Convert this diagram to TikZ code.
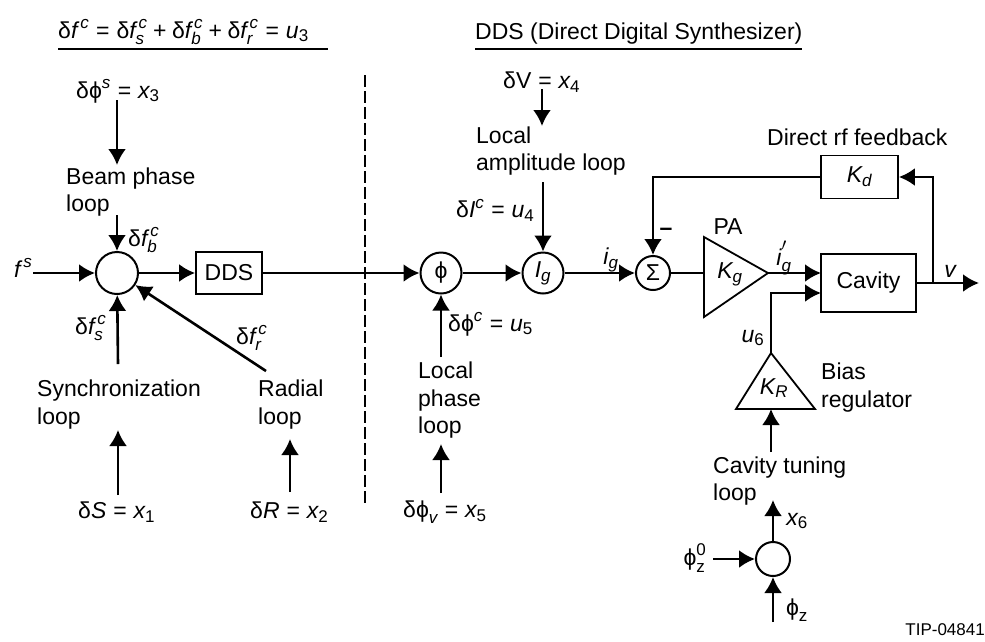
\documentclass[tikz,border=0pt]{standalone}
\usepackage{amsmath}
\usepackage{fontspec}
\setmainfont{Liberation Sans}
\usetikzlibrary{arrows.meta}
\DeclareMathSizes{23}{23}{17}{13}
\newcommand{\mi}[1]{\textit{#1}}
\newcommand{\up}[1]{\textup{#1}}
\newcommand{\dlt}{\textup{δ}}
\newcommand{\phs}{\textup{ϕ}}
\newcommand{\eqs}{\mathrel{\textup{=}}}
\newcommand{\pls}{\mathbin{\textup{+}}}
\tikzset{
  lbl/.style={inner sep=0pt,align=left,anchor=west},
  blockbox/.style={draw,line width=1.8pt,inner sep=0pt,fill=white},
  sumnode/.style={draw,circle,line width=2pt,inner sep=0pt,fill=white}
}
\begin{document}
\begin{tikzpicture}[x=1pt,y=-1pt,>={Latex[length=16pt,width=18pt]},font=\fontsize{23}{27.5}\selectfont]
\useasboundingbox (0,0) rectangle (985,641);
\node[lbl] (headl) at (58,32) {$\dlt\mi{f}^{\,\mi{c}}\eqs\dlt\mi{f}^{\,\mi{c}}_{\mi{s}}\pls\dlt\mi{f}^{\,\mi{c}}_{\mi{b}}\pls\dlt\mi{f}^{\,\mi{c}}_{\mi{r}}\eqs\mi{u}_{\up{3}}$};
\node[lbl] (headr) at (475,34) {DDS (Direct Digital Synthesizer)};
\draw[line width=1.6pt]
  (58,49) -- (328,49)
  (475,49) -- (802,49);
\draw[line width=1.7pt,dash pattern=on 12pt off 4pt]
  (365,75) -- (365,503);
\node[sumnode,minimum size=42pt] (sumf) at (117,273) {};
\node[blockbox,minimum width=66pt,minimum height=42pt] (dds) at (229,273) {DDS};
\node[sumnode,minimum size=41pt] (phi) at (441,273) {\phs};
\node[sumnode,minimum size=41pt] (ig) at (543,273) {$\mi{I}_{\mi{g}}$};
\node[sumnode,minimum size=34pt] (sigma) at (653,273) {Σ};
\node[blockbox,minimum width=77pt,minimum height=43pt] (kd) at (859.5,177) {$\mi{K}_{\mi{d}}$};
\node[blockbox,minimum width=95pt,minimum height=58pt] (cavity) at (868.5,283) {Cavity};
\node[sumnode,minimum size=34pt] (sumz) at (773,559) {};
\coordinate (pain) at (704,273);
\coordinate (paout) at (768,273);
\coordinate (krtop) at (771,353);
\coordinate (krin) at (771,409);
\path[draw,fill=white,line width=1.8pt,line join=miter]
  (704,237) -- (paout) -- (704,317) -- cycle
  (736,409) -- (krtop) -- (815,409) -- cycle;
\node[inner sep=0pt] (kg) at (730,274) {$\mi{K}_{\mi{g}}$};
\node[inner sep=0pt] (kr) at (774,388) {$\mi{K}_{\mi{R}}$};
\node[lbl] (x3) at (76,91) {$\dlt\phs^{\mi{s}}\eqs\mi{x}_{\up{3}}$};
\node[lbl] (beam) at (66,192) {Beam phase\\loop};
\node[lbl] (dfb) at (128,240) {$\dlt\mi{f}^{\,\mi{c}}_{\mi{b}}$};
\node[lbl] (fs) at (14,268) {$\mi{f}^{\,\mi{s}}$};
\node[lbl] (dfs) at (75,328) {$\dlt\mi{f}^{\,\mi{c}}_{\mi{s}}$};
\node[lbl] (dfr) at (236,338) {$\dlt\mi{f}^{\,\mi{c}}_{\mi{r}}$};
\node[lbl] (sync) at (37,404.5) {Synchronization\\loop};
\node[lbl] (radial) at (258,404.5) {Radial\\loop};
\node[lbl] (x1) at (78,512) {$\dlt\mi{S}\eqs\mi{x}_{\up{1}}$};
\node[lbl] (x2) at (250,512) {$\dlt\mi{R}\eqs\mi{x}_{\up{2}}$};
\node[lbl] (x4) at (503,82) {$\dlt\up{V}\eqs\mi{x}_{\up{4}}$};
\node[lbl] (ampl) at (476,151) {Local\\amplitude loop};
\node[lbl] (u4) at (456,210) {$\dlt\mi{I}^{\mi{c}}\eqs\mi{u}_{\up{4}}$};
\node[lbl] (u5) at (448,324) {$\dlt\phs^{\mi{c}}\eqs\mi{u}_{\up{5}}$};
\node[lbl] (local) at (418,400.5) {Local\\phase\\loop};
\node[lbl] (x5) at (403,512) {$\dlt\phs_{\mi{v}}\eqs\mi{x}_{\up{5}}$};
\node[inner sep=0pt] (igl) at (611,260) {$\mi{i}_{\mi{g}}$};
\node[inner sep=0pt] (minus) at (666,232) {\textbf{--}};
\node[inner sep=0pt] (pa) at (728,227) {PA};
\node[inner sep=0pt] (igp) at (784,258) {$\mi{i}^{\raisebox{5pt}{$\scriptstyle\prime$}}_{\mi{g}}$};
\node[lbl] (rffb) at (767,137) {Direct rf feedback};
\node[inner sep=0pt] (v) at (950,271) {$\mi{v}$};
\node[inner sep=0pt] (u6) at (753,338) {$\mi{u}_{\up{6}}$};
\node[lbl] (bias) at (821,387.5) {Bias\\regulator};
\node[lbl] (tuning) at (713,481) {Cavity tuning\\loop};
\node[inner sep=0pt] (x6) at (797,521) {$\mi{x}_{\up{6}}$};
\node[inner sep=0pt] (phz0) at (695,558) {$\phs^{\up{0}}_{\up{z}}$};
\node[inner sep=0pt] (phz) at (797,610) {$\phs_{\up{z}}$};
\node[lbl,anchor=east,font=\fontsize{17}{20}\selectfont] (tip) at (985,630) {TIP-04841};
\coordinate (x3a) at (117,100);
\coordinate (x3b) at (117,165);
\coordinate (beamb) at (117,215);
\coordinate (fsa) at (33,273);
\coordinate (synca) at (118,364);
\coordinate (radiala) at (266,371);
\coordinate (x1a) at (118,495);
\coordinate (x1b) at (118,430);
\coordinate (x2a) at (290,492);
\coordinate (x2b) at (290,439);
\coordinate (x4a) at (542,89);
\coordinate (x4b) at (542,126);
\coordinate (ampla) at (543,182);
\coordinate (locala) at (441,357);
\coordinate (x5a) at (441,493);
\coordinate (x5b) at (441,444);
\coordinate (cav1) at (821,273);
\coordinate (cav2) at (821,293);
\coordinate (vend) at (979,283);
\coordinate (vtap) at (933,283);
\coordinate (fbc) at (771,293);
\coordinate (tunea) at (771,452);
\coordinate (x6b) at (773,500);
\coordinate (phz0a) at (713,559);
\coordinate (phza) at (773,622);
\begin{scope}[->,line width=2.6pt]
\draw (x3a) -- (x3b);
\draw (beamb) -- (sumf);
\draw (fsa) -- (sumf);
\draw (sumf) -- (dds);
\draw (dds) -- (phi);
\draw (synca) -- (sumf);
\draw (radiala) -- (sumf);
\draw (x1a) -- (x1b);
\draw (x2a) -- (x2b);
\draw (x4a) -- (x4b);
\draw (ampla) -- (ig);
\draw (locala) -- (phi);
\draw (x5a) -- (x5b);
\draw (phi) -- (ig);
\draw (ig) -- (sigma);
\draw (kd.west) -| (sigma);
\draw (vtap) |- (kd.east);
\draw (paout) -- (cav1);
\draw (krtop) -- (fbc) -- (cav2);
\draw (cavity.east) -- (vend);
\draw (tunea) -- (krin);
\draw (sumz) -- (x6b);
\draw (phz0a) -- (sumz);
\draw (phza) -- (sumz);
\end{scope}
\draw[line width=2.6pt] (sigma) -- (pain);
\end{tikzpicture}
\end{document}
